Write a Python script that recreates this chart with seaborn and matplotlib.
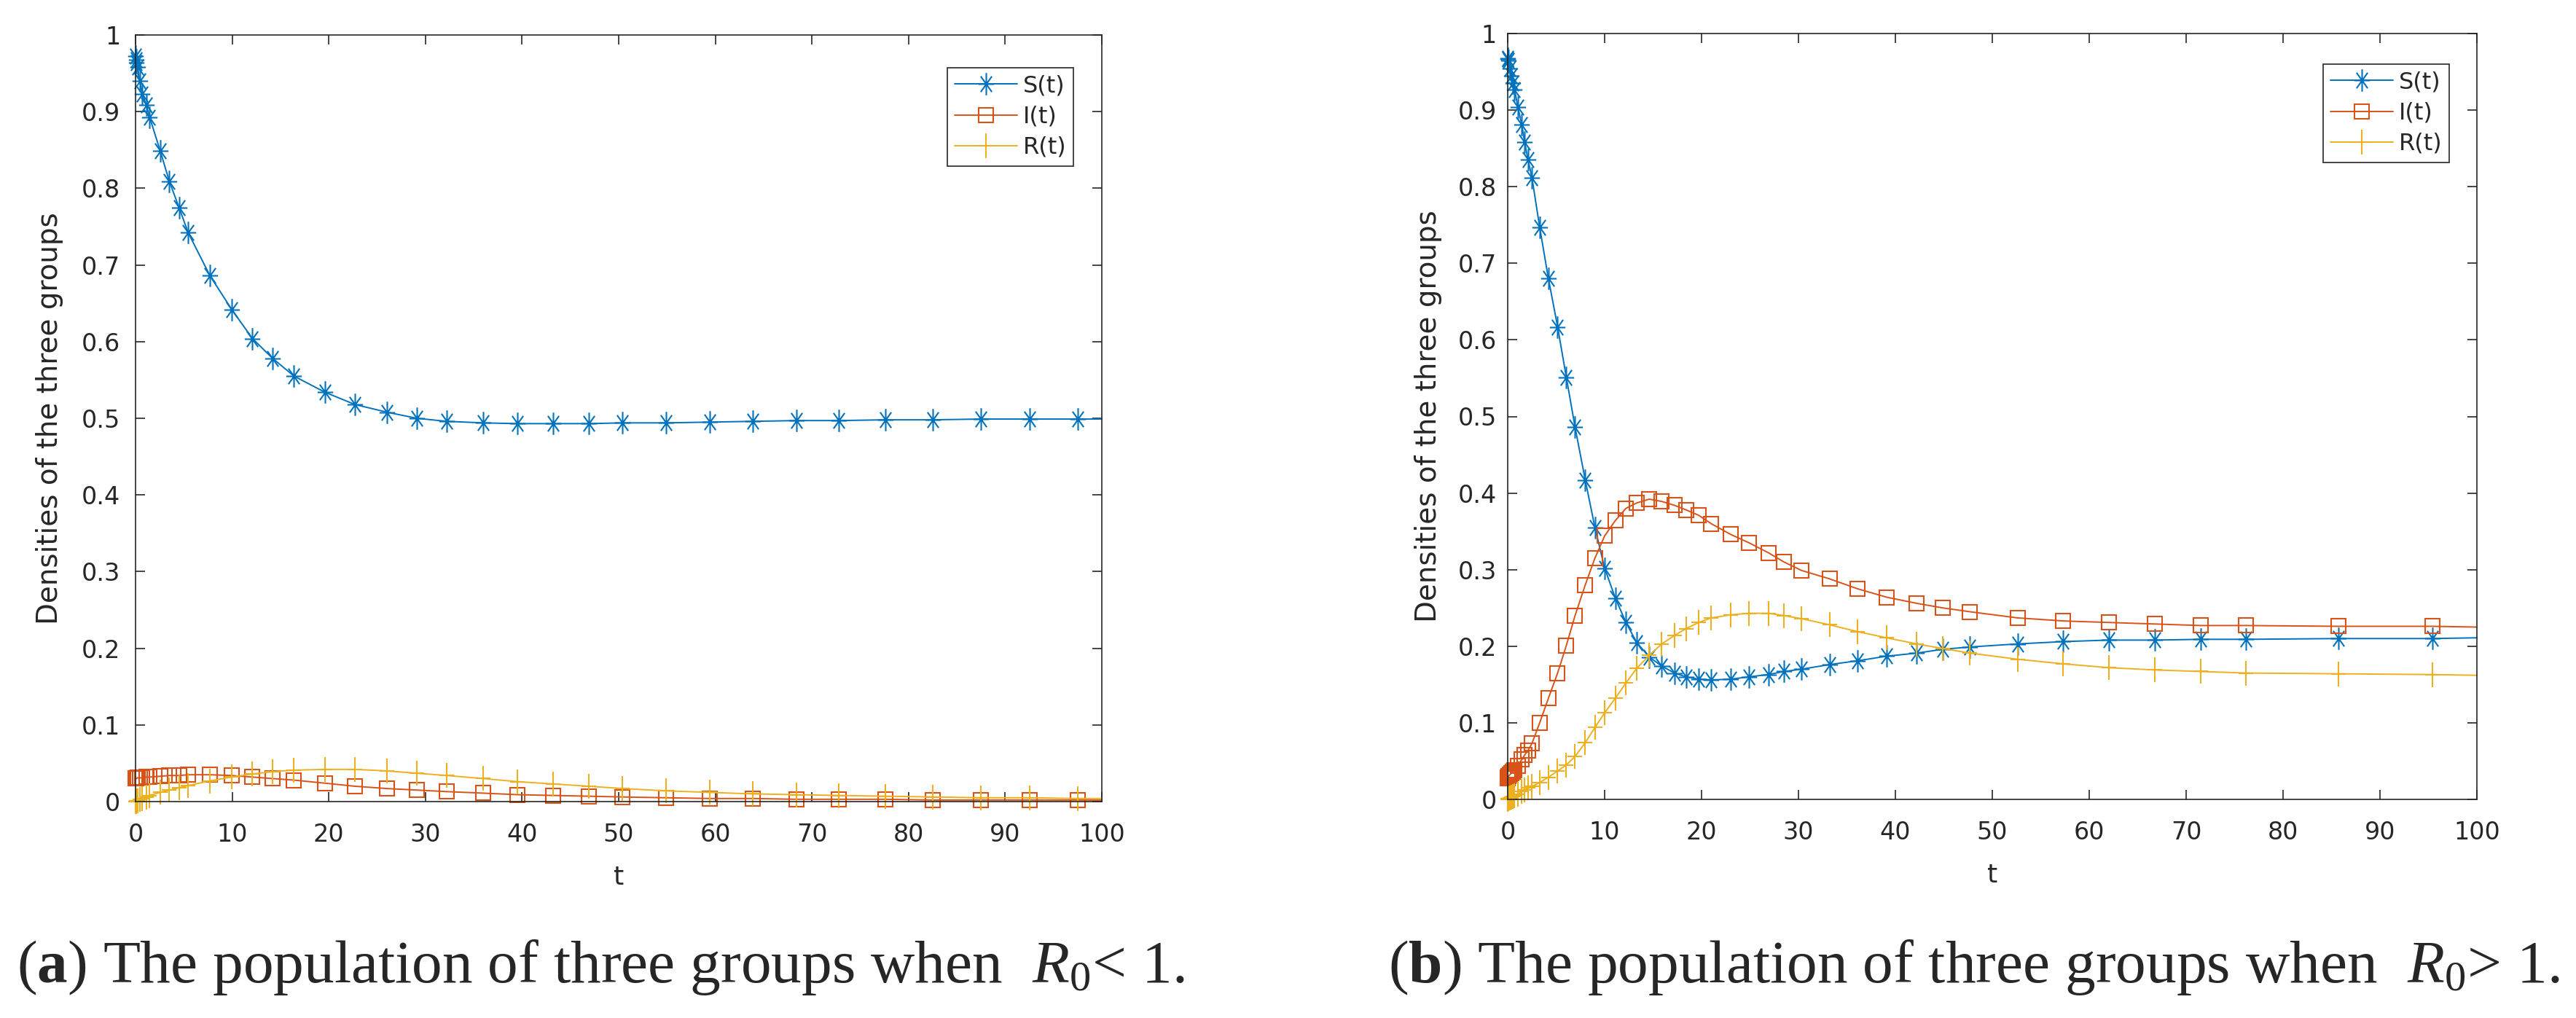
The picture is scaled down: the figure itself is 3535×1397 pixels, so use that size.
import numpy as np
import seaborn as sns
import matplotlib.pyplot as plt
from matplotlib.path import Path
from matplotlib.lines import Line2D

# ---- panel (a): R0 < 1 ----
t_a = [0, 0.05, 0.1, 0.2, 0.45, 0.7, 1.1, 1.45, 2.55, 3.5,
       4.5, 5.45, 7.7, 9.95, 12.1, 14.2, 16.4, 19.6, 22.7, 26.0,
       29.1, 32.2, 36.0, 39.5, 43.2, 46.9, 50.4, 54.9, 59.4, 63.9,
       68.4, 72.8, 77.6, 82.5, 87.5, 92.5, 97.5, 100]
S_a = [0.972, 0.968, 0.964, 0.958, 0.940, 0.923, 0.909, 0.893, 0.849, 0.809,
       0.775, 0.742, 0.686, 0.642, 0.604, 0.578, 0.555, 0.534, 0.518, 0.508,
       0.500, 0.496, 0.494, 0.493, 0.493, 0.493, 0.494, 0.494, 0.495, 0.496,
       0.497, 0.497, 0.498, 0.498, 0.499, 0.499, 0.499, 0.499]
I_a = [0.030, 0.030, 0.030, 0.031, 0.031, 0.031, 0.032, 0.032, 0.033, 0.034,
       0.034, 0.035, 0.035, 0.034, 0.032, 0.030, 0.028, 0.024, 0.020, 0.017,
       0.015, 0.013, 0.011, 0.009, 0.008, 0.007, 0.006, 0.005, 0.004, 0.004,
       0.003, 0.003, 0.003, 0.002, 0.002, 0.002, 0.002, 0.002]
R_a = [0.000, 0.0003, 0.0006, 0.0012, 0.0027, 0.004, 0.006, 0.008, 0.012, 0.015,
       0.018, 0.021, 0.027, 0.032, 0.036, 0.039, 0.041, 0.042, 0.042, 0.040,
       0.037, 0.034, 0.030, 0.026, 0.023, 0.020, 0.017, 0.014, 0.012, 0.010,
       0.009, 0.008, 0.007, 0.006, 0.005, 0.005, 0.004, 0.004]

# ---- panel (b): R0 > 1 ----
t_b = [0, 0.03, 0.06, 0.2, 0.35, 0.55, 0.7, 1.05, 1.45, 1.75,
       2.1, 2.5, 3.3, 4.2, 5.15, 6.05, 6.95, 8.0, 9.0, 10.0,
       11.1, 12.2, 13.3, 14.6, 15.9, 17.2, 18.4, 19.7, 21.0, 23.0,
       24.9, 26.9, 28.5, 30.3, 33.2, 36.1, 39.1, 42.2, 44.9, 47.7,
       52.6, 57.3, 62.0, 66.8, 71.5, 76.2, 85.7, 95.4, 100]
S_b = [0.968, 0.967, 0.965, 0.954, 0.945, 0.935, 0.927, 0.904, 0.881, 0.858,
       0.835, 0.812, 0.747, 0.680, 0.617, 0.551, 0.486, 0.417, 0.355, 0.302,
       0.263, 0.231, 0.205, 0.186, 0.174, 0.165, 0.160, 0.157, 0.156, 0.157,
       0.160, 0.163, 0.167, 0.170, 0.176, 0.181, 0.187, 0.191, 0.196, 0.199,
       0.203, 0.206, 0.208, 0.208, 0.209, 0.209, 0.210, 0.210, 0.211]
I_b = [0.028, 0.029, 0.030, 0.032, 0.034, 0.036, 0.038, 0.044, 0.052, 0.058,
       0.064, 0.073, 0.100, 0.132, 0.165, 0.201, 0.240, 0.280, 0.315, 0.344,
       0.364, 0.380, 0.387, 0.392, 0.389, 0.384, 0.378, 0.371, 0.360, 0.346,
       0.335, 0.322, 0.310, 0.299, 0.288, 0.275, 0.264, 0.256, 0.250, 0.245,
       0.237, 0.233, 0.231, 0.229, 0.227, 0.227, 0.226, 0.226, 0.225]
R_b = [0.000, 0.0005, 0.001, 0.002, 0.003, 0.004, 0.005, 0.007, 0.010, 0.012,
       0.015, 0.017, 0.022, 0.029, 0.037, 0.045, 0.056, 0.074, 0.094, 0.113,
       0.132, 0.152, 0.171, 0.188, 0.203, 0.214, 0.223, 0.231, 0.237, 0.241,
       0.243, 0.243, 0.240, 0.236, 0.228, 0.219, 0.211, 0.203, 0.197, 0.191,
       0.183, 0.177, 0.172, 0.169, 0.167, 0.165, 0.164, 0.163, 0.162]

series = ['S(t)', 'I(t)', 'R(t)']
colors = ['#0072BD', '#D95319', '#EDB120']
x_ticks = list(range(0, 101, 10))
y_ticks = [0, 0.1, 0.2, 0.3, 0.4, 0.5, 0.6, 0.7, 0.8, 0.9, 1]
y_ticklabels = ['0', '0.1', '0.2', '0.3', '0.4', '0.5', '0.6', '0.7', '0.8', '0.9', '1']
captions = [r"($\mathbf{a}$) The population of three groups when  $R_0$< 1.",
            r"($\mathbf{b}$) The population of three groups when  $R_0$> 1."]

sns.set_style("ticks")
plt.rcParams['font.family'] = ['DejaVu Sans']
plt.rcParams['mathtext.fontset'] = 'custom'
plt.rcParams['mathtext.rm'] = 'Liberation Serif'
plt.rcParams['mathtext.it'] = 'Liberation Serif:italic'
plt.rcParams['mathtext.bf'] = 'Liberation Serif:bold'

# MATLAB-like asterisk and plus (a bit taller than wide)
star = Path([(-0.7, 0), (0.7, 0), (0, -1), (0, 1),
             (-0.5, -0.7), (0.5, 0.7), (-0.5, 0.7), (0.5, -0.7)],
            [Path.MOVETO, Path.LINETO] * 4)
plus = Path([(-0.6, 0), (0.6, 0), (0, -1), (0, 1)],
            [Path.MOVETO, Path.LINETO] * 2)
markers = [star, 's', plus]
msizes = [22, 15, 24]
ink = '#262626'

fig = plt.figure(figsize=(35.35, 13.97), dpi=100)
ax_a = fig.add_axes([186 / 3535, 297 / 1397, 1326 / 3535, 1052 / 1397])
ax_b = fig.add_axes([2069 / 3535, 300 / 1397, 1330 / 3535, 1051 / 1397])

panels = [(ax_a, t_a, [S_a, I_a, R_a], 15, (0.9706, 0.9572), -0.075),
          (ax_b, t_b, [S_b, I_b, R_b], 11, (0.9714, 0.9600), -0.068)]

for ax, t, ys, ypad, leg_xy, ylab_x in panels:
    for y, col, mk, ms in zip(ys, colors, markers, msizes):
        sns.lineplot(x=t, y=y, ax=ax, color=col, lw=1.4, marker=mk, ms=ms,
                     mec=col, mfc='none', mew=1.5,
                     markevery=list(range(len(t) - 1)),
                     clip_on=False, legend=False, sort=False, estimator=None)
    ax.set_xlim(0, 100)
    ax.set_ylim(0, 1)
    ax.set_xticks(x_ticks)
    ax.set_yticks(y_ticks)
    ax.set_yticklabels(y_ticklabels)
    ax.tick_params(direction='in', top=True, right=True, length=9.5, width=1.2,
                   labelsize=24, colors=ink)
    ax.tick_params(axis='x', pad=21)
    ax.tick_params(axis='y', pad=ypad)
    for sp in ax.spines.values():
        sp.set_visible(True)
        sp.set_linewidth(1.2)
        sp.set_color(ink)
    ax.set_xlabel('t', fontsize=26, color=ink)
    ax.set_ylabel('Densities of the three groups', fontsize=28, color=ink)
    ax.xaxis.set_label_coords(0.5, -0.083)
    ax.yaxis.set_label_coords(ylab_x, 0.5)

    handles = [Line2D([], [], color=c, lw=1.4, marker=m, ms=s, mec=c,
                      mfc='none', mew=1.5)
               for c, m, s in zip(colors, markers, msizes)]
    leg = ax.legend(handles, series, loc='upper right', bbox_to_anchor=leg_xy,
                    borderaxespad=0, fontsize=23, frameon=True, fancybox=False,
                    edgecolor=ink, framealpha=1, borderpad=0.3,
                    labelspacing=0.35, handlelength=2.7, handletextpad=0.25)
    leg.get_frame().set_linewidth(1.2)
    for txt in leg.get_texts():
        txt.set_color(ink)

fig.text(23 / 3535, 49 / 1397, captions[0], fontsize=60,
         family='Liberation Serif', va='baseline', ha='left')
fig.text(1905 / 3535, 49 / 1397, captions[1], fontsize=60,
         family='Liberation Serif', va='baseline', ha='left')

fig.savefig('out.png', dpi=100)
